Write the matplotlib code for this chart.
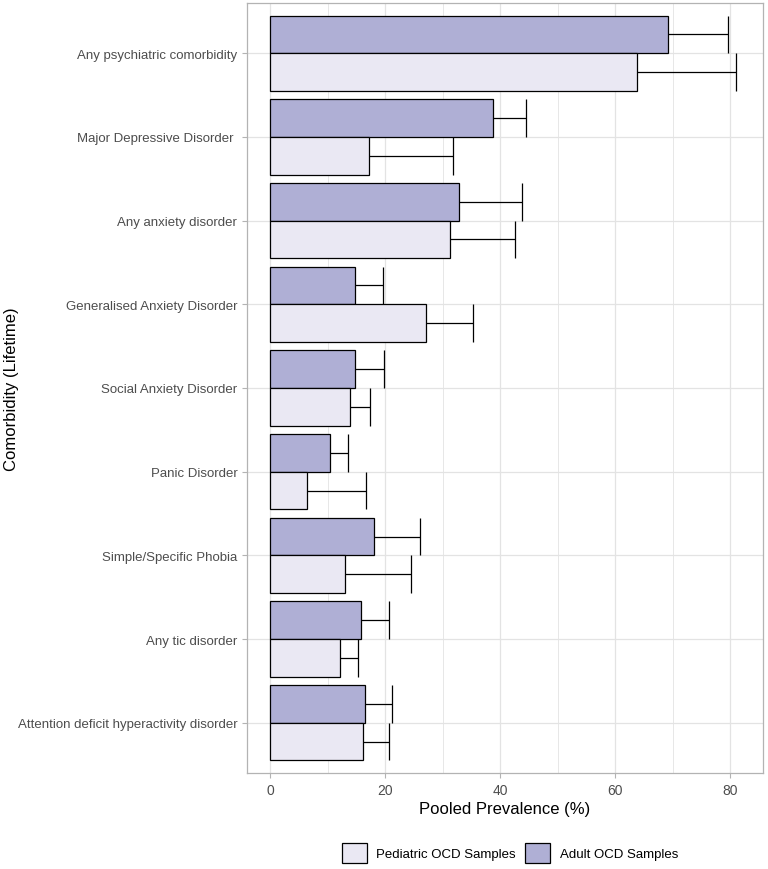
import numpy as np
import matplotlib.pyplot as plt
from matplotlib.patches import Patch

plt.rcParams['font.family'] = ['Liberation Sans', 'DejaVu Sans']

# data
categories = ["Any psychiatric comorbidity", "Major Depressive Disorder ", "Any anxiety disorder",
              "Generalised Anxiety Disorder", "Social Anxiety Disorder", "Panic Disorder",
              "Simple/Specific Phobia", "Any tic disorder", "Attention deficit hyperactivity disorder"]
adult = [69.1, 38.8, 32.9, 14.8, 14.7, 10.4, 18.0, 15.7, 16.4]
adult_upper = [79.6, 44.4, 43.8, 19.6, 19.7, 13.6, 26.0, 20.7, 21.2]
pediatric = [63.7, 17.1, 31.3, 27.0, 13.8, 6.3, 13.0, 12.1, 16.2]
pediatric_upper = [81.0, 31.7, 42.6, 35.2, 17.4, 16.6, 24.4, 15.2, 20.7]

col_adult = "#AFAFD5"
col_ped = "#EAE8F3"
grid_col = "#E3E3E3"
border_col = "#B3B3B3"

fig = plt.figure(figsize=(7.68, 8.70), dpi=100)
ax = fig.add_axes([247/768, 96/870, 516/768, 770/870])

y = np.arange(len(categories))
h = 0.45
ax.barh(y - h/2, adult, height=h, color=col_adult, edgecolor="black", linewidth=0.9, zorder=3)
ax.barh(y + h/2, pediatric, height=h, color=col_ped, edgecolor="black", linewidth=0.9, zorder=3)

# upper error whiskers only
for yy, v, up in [(y - h/2, adult, adult_upper), (y + h/2, pediatric, pediatric_upper)]:
    ax.hlines(yy, v, up, color="black", linewidth=0.9, zorder=2)
    ax.vlines(up, yy - h/2, yy + h/2, color="black", linewidth=0.9, zorder=2)

ax.set_xlim(-4.05, 85.7)
ax.set_ylim(len(categories) - 1 + 0.6, -0.6)
ax.set_yticks(y)
ax.set_yticklabels(categories)
ax.set_xticks([0, 20, 40, 60, 80])
ax.set_xticks([10, 30, 50, 70], minor=True)
ax.tick_params(axis="both", which="major", colors=border_col, labelcolor="#4D4D4D",
               labelsize=9.5, length=3.5, width=0.8)
ax.tick_params(axis="x", which="major", labelsize=10)
ax.tick_params(axis="x", which="minor", length=0)
ax.grid(True, which="major", color=grid_col, linewidth=0.9, zorder=0)
ax.grid(True, which="minor", axis="x", color=grid_col, linewidth=0.6, zorder=0)
ax.set_axisbelow(True)
for s in ax.spines.values():
    s.set_color(border_col)
    s.set_linewidth(0.9)

ax.set_xlabel("Pooled Prevalence (%)", fontsize=12, labelpad=3)
ax.set_ylabel("Comorbidity (Lifetime)", fontsize=12, va="center")
ax.yaxis.set_label_coords((12 - 247) / 516, 0.5)

handles = [Patch(facecolor=col_ped, edgecolor="black", linewidth=0.9, label="Pediatric OCD Samples"),
           Patch(facecolor=col_adult, edgecolor="black", linewidth=0.9, label="Adult OCD Samples")]
fig.legend(handles=handles, loc="center", bbox_to_anchor=(510/768, 16/870), ncol=2,
           frameon=False, fontsize=9.5, handlelength=1.9, handleheight=1.9,
           columnspacing=0.7, handletextpad=0.7)

fig.savefig("out.png", dpi=100)
